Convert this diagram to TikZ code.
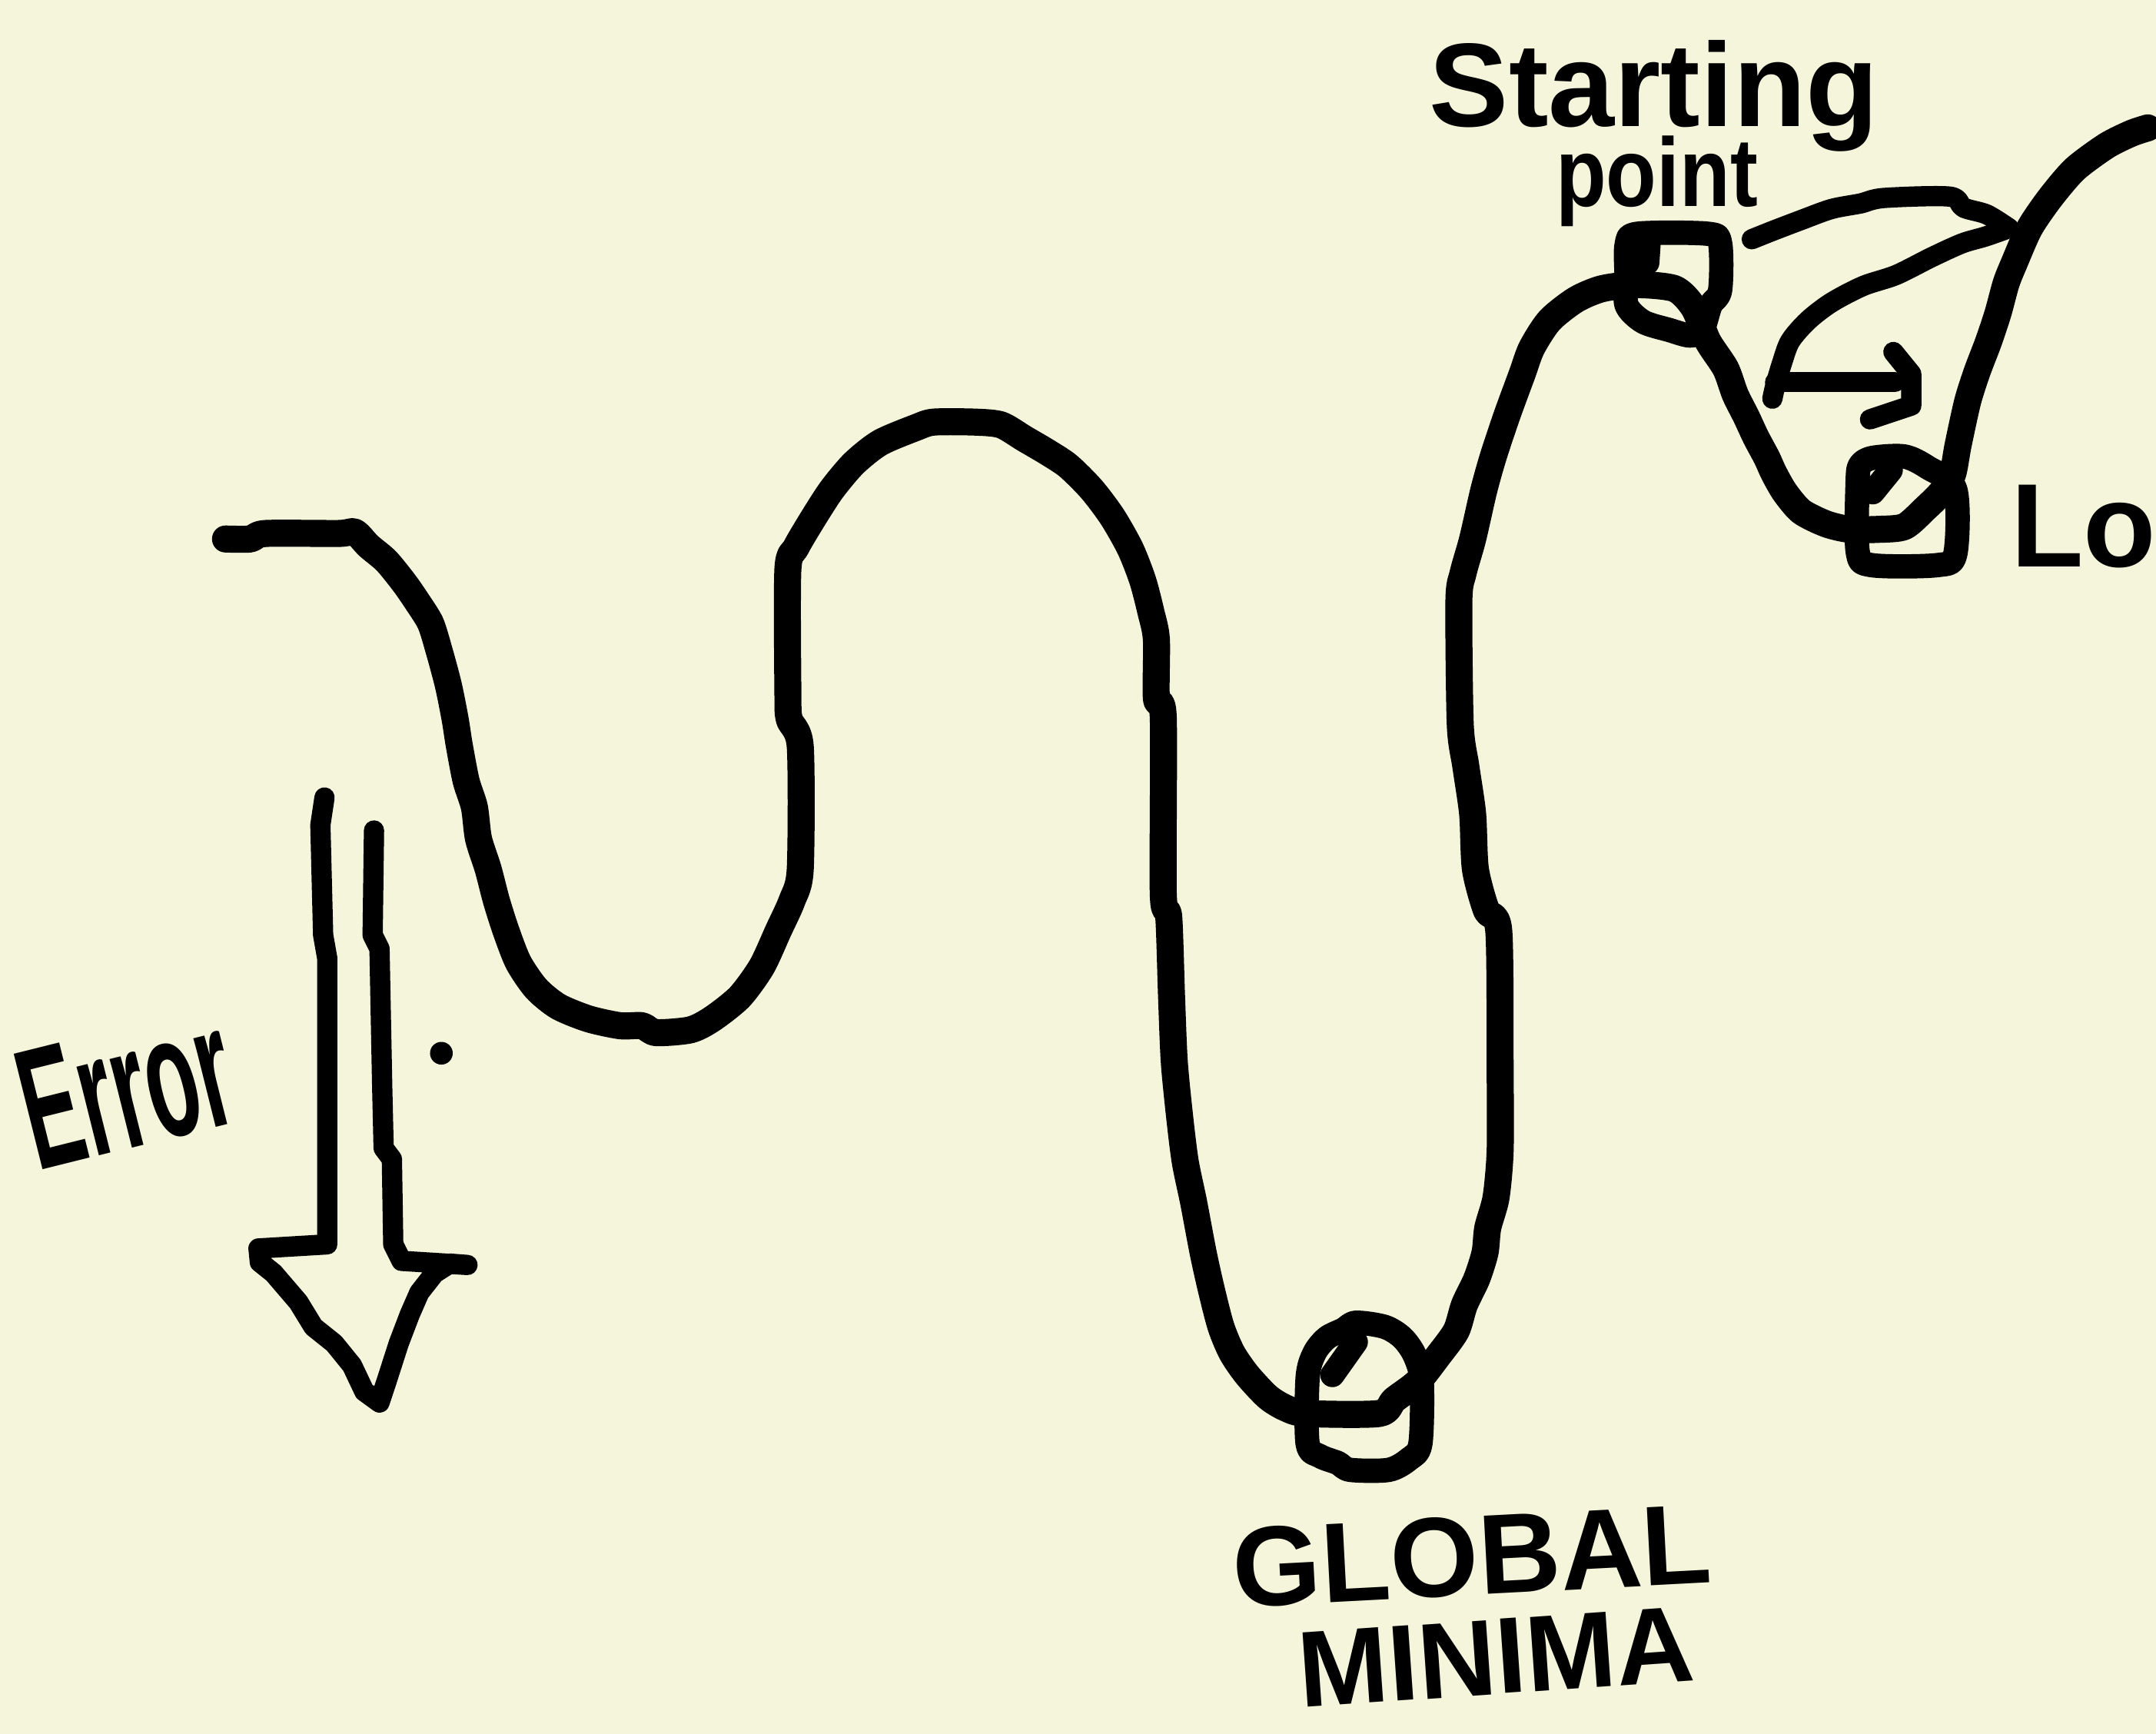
\documentclass[tikz,border=0pt]{standalone}
\usepackage{graphicx}
\usepackage{fontspec}
\setmainfont{Liberation Sans}
\usepackage{tikz}
\definecolor{paper}{HTML}{F5F5DC}
\definecolor{ink}{HTML}{000000}
\tikzset{
  curve/.style={draw=ink, line width=10pt, line cap=round, line join=round},
  pen/.style={draw=ink, line width=7.5pt, line cap=round, line join=round},
  ball/.style={draw=ink, line width=9pt, line cap=round, line join=round},
  scrawl/.style={text=ink, inner sep=0pt}
}
\newcommand{\handfont}[1]{\fontsize{#1}{#1}\selectfont\bfseries}

\begin{document}
\begin{tikzpicture}[x=0.017889cm, y=-0.017889cm]
  \fill[paper] (0,0) rectangle (1568,1261);
  \useasboundingbox (0,0) rectangle (1568,1261);

  % error surface
  \draw[curve] plot[smooth, tension=0.45] coordinates {
    (164,392) (182,392) (193,388) (246,388) (258,387) (268,397) (281,408) (294,424)
    (303,437) (313,453) (319,472) (326,498) (331,523) (334,542) (339,568) (345,587)
    (348,610) (355,632) (361,655) (368,677) (377,700) (390,719) (406,732) (428,741)
    (451,746) (467,746) (477,751) (502,749) (518,741) (538,725) (554,703) (566,677)
    (576,655) (582,632) (582,543) (574,523) (573,504) (573,414) (579,398) (592,376)
    (605,356) (621,337) (640,322) (666,311) (679,307) (709,307) (728,309) (745,319)
    (762,329) (777,339) (794,356) (809,376) (822,399) (831,422) (837,445) (841,465)
    (841,508) (846,522) (846,650) (850,667) (852,724) (854,772) (858,813) (862,845)
    (868,874) (875,911) (881,938) (888,965) (896,984) (907,1000) (922,1016) (935,1024)
    (950,1028) (1003,1028) (1014,1018) (1031,1005) (1046,986) (1059,968) (1065,949)
    (1074,930) (1080,911) (1082,893) (1088,871) (1091,837) (1091,778) (1090,677)
    (1081,662) (1073,632) (1071,592) (1066,557) (1062,527) (1061,437) (1064,417)
    (1071,392) (1079,357) (1086,332) (1096,302) (1107,272) (1114,253) (1127,233)
    (1146,218) (1165,210) (1190,207) (1218,210) (1232,224) (1242,248) (1255,268)
    (1262,287) (1270,303) (1277,318) (1285,333) (1290,344) (1298,358) (1310,372)
    (1328,381) (1345,385) (1366,385) (1385,383) (1400,370) (1412,358) (1420,345)
    (1424,324) (1431,292) (1438,270) (1446,249) (1453,228) (1459,206) (1465,191)
    (1476,166) (1491,144) (1509,123) (1532,106) (1550,97) (1562,93)};

  % balls
  \draw[ball] plot[smooth cycle, tension=0.5] coordinates {
    (1183,203) (1183,178) (1191,170) (1242,170) (1251,177) (1251,211) (1244,222)
    (1238,240) (1229,244) (1214,240) (1195,234) (1183,222)};
  \draw[ball] (1199,176) -- (1198,191);
  \draw[ball] plot[smooth cycle, tension=0.5] coordinates {
    (1351,350) (1351,401) (1361,411) (1409,411) (1422,403) (1422,356) (1402,340)
    (1385,332) (1362,333) (1353,338)};
  \draw[ball] (1362,358) -- (1375,342);
  \draw[ball] plot[smooth cycle, tension=0.5] coordinates {
    (951,1002) (951,1050) (960,1059) (973,1064) (982,1069) (1010,1069) (1025,1061)
    (1033,1050) (1034,1005) (1029,986) (1020,973) (1007,965) (986,962) (977,967)
    (965,973) (956,984)};
  \draw[ball] (969,1000) -- (986,976);

  % jump arrow
  \draw[pen] plot[smooth, tension=0.5] coordinates {
    (1274,174) (1289,168) (1310,160) (1332,152) (1353,148) (1370,144) (1418,143)
    (1428,151) (1445,156) (1461,166)};
  \draw[pen] plot[smooth, tension=0.5] coordinates {
    (1461,166) (1444,172) (1427,177) (1405,187) (1379,200) (1355,208) (1332,220)
    (1315,233) (1302,248) (1296,264) (1291,281) (1289,290)};
  \draw[pen] (1291,278) -- (1378,278);
  \draw[pen] (1377,256) -- (1390,272) -- (1390,295) -- (1360,305);

  % error arrow
  \draw[pen] (236,580) -- (233,600) -- (235,680) -- (238,697) -- (238,905)
    -- (188,908) -- (189,918) -- (199,926) -- (217,947) -- (228,965) -- (243,977)
    -- (256,993) -- (265,1012) -- (276,1020) -- (281,1005) -- (290,977) -- (298,956)
    -- (305,940) -- (316,926) -- (327,919) -- (340,920) -- (292,917) -- (286,905)
    -- (285,843) -- (279,835) -- (278,792) -- (276,690) -- (271,680) -- (272,604);
  \fill[ink] (321,766) circle[radius=4.2pt];

  % labels
  \node[scrawl, anchor=base, font=\handfont{44}] (startlbl) at (1203,92) {Starting};
  \node[scrawl, anchor=base, font=\handfont{36}] (pointlbl) at (1205,150) {\scalebox{0.85}[1]{point}};
  \node[scrawl, anchor=base west, font=\handfont{44}] (loclbl) at (1462,412) {Lo};
  \node[scrawl, anchor=base, rotate=3, font=\handfont{42}] (globlbl) at (1072,1160) {GLOBAL};
  \node[scrawl, anchor=base, rotate=4, font=\handfont{40}] (minlbl) at (1090,1232) {MINIMA};
  \node[scrawl, anchor=base west, rotate=14, font=\handfont{64}] (errlbl) at (27,852) {\scalebox{0.5}[1]{Error}};
\end{tikzpicture}
\end{document}
